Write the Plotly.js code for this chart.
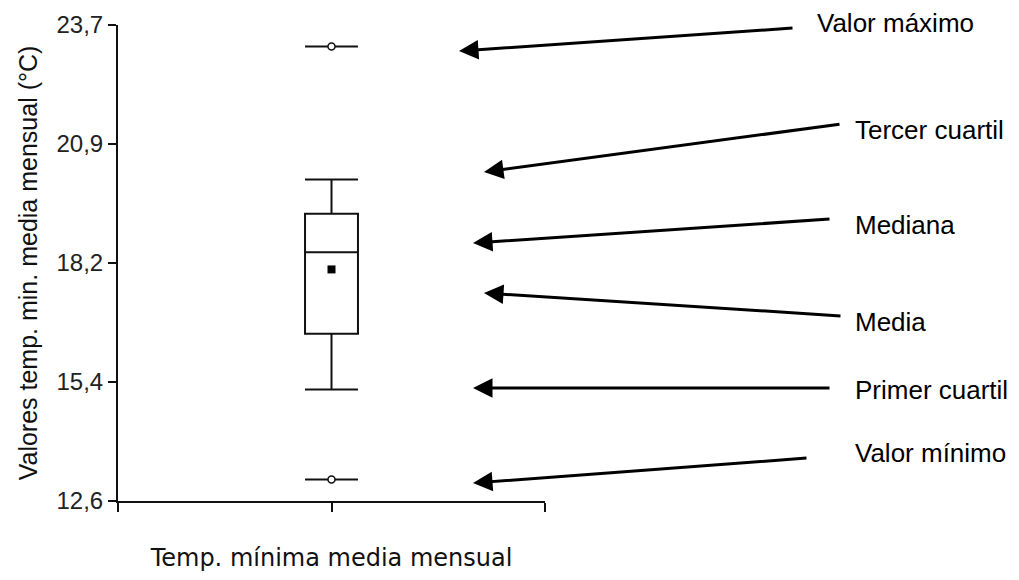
<!DOCTYPE html>
<html>
<head>
<meta charset="utf-8">
<script src="https://cdn.plot.ly/plotly-3.0.1.min.js"></script>
<style>html,body{margin:0;padding:0;background:#fff;}#chart{width:1019px;height:580px;}</style>
</head>
<body>
<div id="chart"></div>
<script>
// ---- data ----
const categories = ['Temp. mínima media mensual'];
const minValues = [13.1];
const lowerWhisker = [15.2];
const q1Values = [16.5];
const medianValues = [18.4];
const meanValues = [18.0];
const q3Values = [19.3];
const upperWhisker = [20.1];
const maxValues = [23.2];
const yTickVals = [12.6, 15.375, 18.15, 20.925, 23.7];
const yTickText = ['12,6', '15,4', '18,2', '20,9', '23,7'];
const yTitle = 'Valores temp. min. media mensual (°C)';
const labelTexts = ['Valor máximo', 'Tercer cuartil', 'Mediana', 'Media', 'Primer cuartil', 'Valor mínimo'];

// ---- layout helpers (pixel -> paper) ----
const W = 1019, H = 580, L = 118, R = 545, T = 25, B = 501;
const px = x => (x - L) / (R - L);
const py = y => (B - y) / (B - T);

const xPos = categories.map((c, i) => i);
const ink = '#111111';
const boxWidth = 0.124;
// Plotly draws line-ew symbols 1.4x the marker size
const capMarkerSize = boxWidth * (R - L) / 1.4;

const traces = [
  {
    type: 'box', x: xPos,
    q1: q1Values, median: medianValues, q3: q3Values,
    lowerfence: lowerWhisker, upperfence: upperWhisker,
    width: boxWidth, whiskerwidth: 1, boxpoints: false,
    fillcolor: 'rgba(255,255,255,0)',
    line: {color: ink, width: 2},
    hoverinfo: 'y'
  },
  {
    type: 'scatter', mode: 'markers',
    x: xPos.concat(xPos), y: minValues.concat(maxValues),
    marker: {symbol: 'line-ew-open', size: capMarkerSize, color: ink, line: {width: 2, color: ink}},
    hoverinfo: 'y', cliponaxis: false
  },
  {
    type: 'scatter', mode: 'markers',
    x: xPos.concat(xPos), y: minValues.concat(maxValues),
    marker: {symbol: 'circle', size: 7, color: '#ffffff', line: {width: 1.5, color: ink}},
    hoverinfo: 'y', cliponaxis: false
  },
  {
    type: 'scatter', mode: 'markers',
    x: xPos, y: meanValues,
    marker: {symbol: 'square', size: 8, color: '#000000'},
    hoverinfo: 'y'
  }
];

// label positions (pixels) and arrow head/tail positions (pixels)
const labelPos = [[815, 23], [853, 130], [853, 225], [853, 322], [853, 390], [853, 453]];
const arrowHead = [[459, 51], [484, 172], [473, 243], [484, 293], [473, 388], [473, 483]];
const arrowTail = [[794, 28], [841, 124], [831, 219], [842, 316], [831, 388], [808, 458]];

const annotations = [];
labelTexts.forEach((t, i) => {
  annotations.push({
    xref: 'paper', yref: 'paper', x: px(labelPos[i][0]), y: py(labelPos[i][1]),
    xanchor: 'left', yanchor: 'middle', showarrow: false, text: t,
    font: {family: 'Liberation Sans, Arial, sans-serif', size: 26, color: '#000'}
  });
  annotations.push({
    xref: 'paper', yref: 'paper', x: px(arrowHead[i][0]), y: py(arrowHead[i][1]),
    axref: 'pixel', ayref: 'pixel',
    ax: arrowTail[i][0] - arrowHead[i][0], ay: arrowTail[i][1] - arrowHead[i][1],
    text: '', showarrow: true, arrowhead: 2, arrowsize: 1.3, arrowwidth: 3,
    arrowcolor: '#000', standoff: 0, startstandoff: 0
  });
});

const layout = {
  width: W, height: H,
  margin: {l: L, r: W - R, t: T, b: H - B, pad: 0},
  paper_bgcolor: '#ffffff', plot_bgcolor: '#ffffff',
  showlegend: false,
  xaxis: {
    range: [-0.5, 0.5], tickmode: 'array', tickvals: [-0.5, 0, 0.5], ticktext: ['', '', ''],
    ticks: 'outside', ticklen: 9, tickwidth: 2, tickcolor: ink,
    showline: true, linecolor: ink, linewidth: 2, showgrid: false, zeroline: false,
    fixedrange: true, automargin: false,
    title: {text: categories[0], standoff: 36, font: {family: 'DejaVu Sans, sans-serif', size: 24, color: ink}}
  },
  yaxis: {
    range: [12.6, 23.7], tickmode: 'array', tickvals: yTickVals, ticktext: yTickText,
    ticks: 'outside', ticklen: 8, tickwidth: 2, tickcolor: ink,
    showline: true, linecolor: ink, linewidth: 2, showgrid: false, zeroline: false,
    fixedrange: true, automargin: false,
    tickfont: {family: 'Liberation Sans, Arial, sans-serif', size: 24, color: '#222'},
    title: {text: yTitle, standoff: 12, font: {family: 'Liberation Sans, Arial, sans-serif', size: 25, color: ink}}
  },
  annotations: annotations
};

Plotly.newPlot('chart', traces, layout, {displayModeBar: false, staticPlot: true});
</script>
</body>
</html>
